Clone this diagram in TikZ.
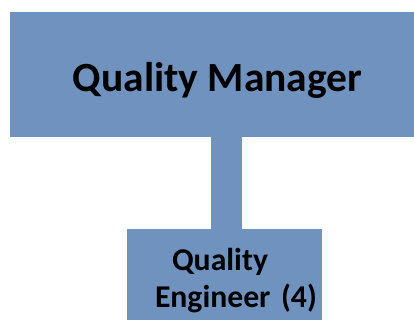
\documentclass[tikz,border=0pt]{standalone}
\usepackage{fontspec}
\setmainfont{Carlito}
\definecolor{boxblue}{RGB}{111,146,191}
\begin{document}
\begin{tikzpicture}
  [x=1pt,y=-1pt,
   box/.style={rectangle,fill=boxblue,draw=none,inner sep=0pt,font=\bfseries},
   bar/.style={boxblue,line width=31pt}]
  \fill[white] (0,0) rectangle (414,320);
  \useasboundingbox (0,0) rectangle (414,320);
  \clip (0,0) rectangle (414,320);

  \node (qm) at (215,74.5) [box,minimum width=410pt,minimum height=125pt,
    font=\fontsize{41.5}{48}\bfseries]
    {\raisebox{-17.5pt}[0pt][0pt]{\hspace*{5pt}Quality Manager}};
  \node (qe) at (224.5,280.5) [box,minimum width=195pt,minimum height=103pt,
    text width=195pt,align=left,font=\fontsize{31.7}{37}\bfseries]
    {\hspace*{45pt}Quality\\\hspace*{28pt}Engineer (4)};

  \draw [bar] ([xshift=2pt]qe.north) -- ([xshift=2pt]qe.north |- qm.south);
\end{tikzpicture}
\end{document}
